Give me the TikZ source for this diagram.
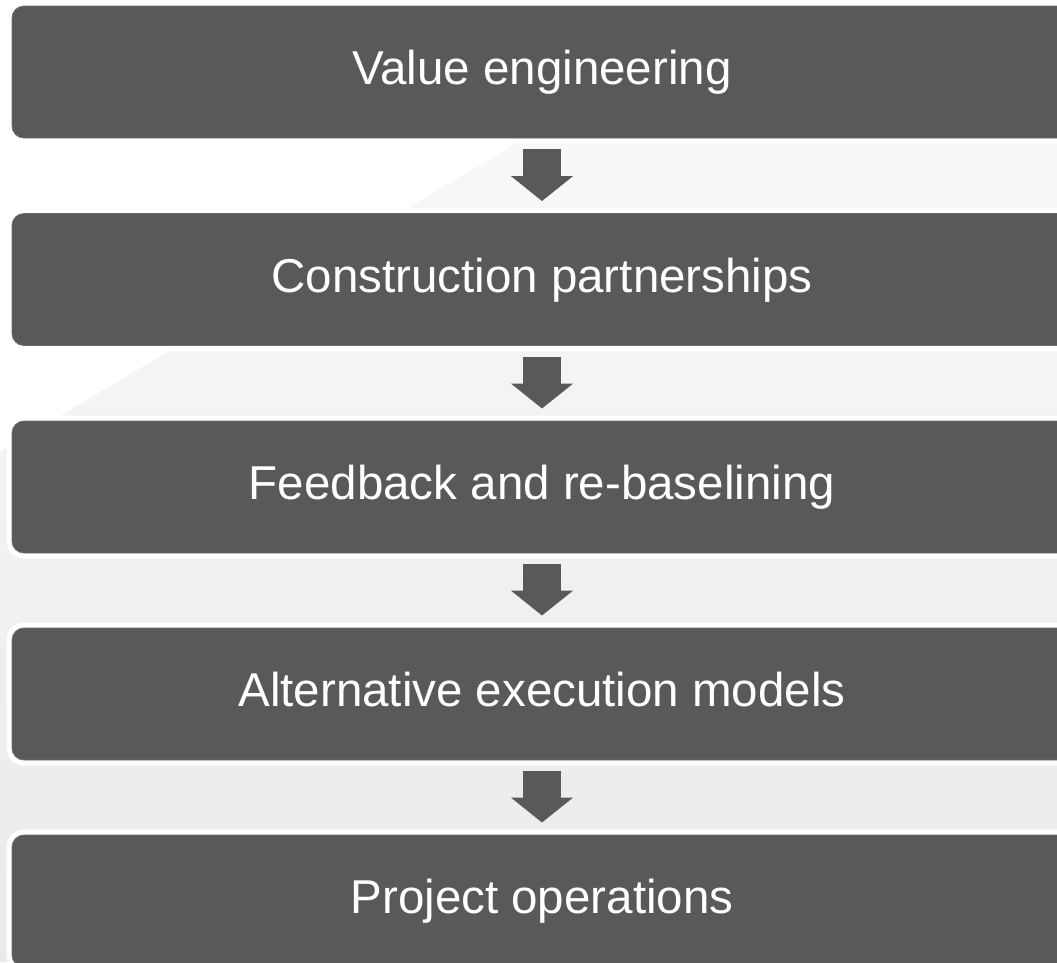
\documentclass[tikz,border=0pt]{standalone}
\usepackage{fontspec}
\setmainfont{Liberation Sans}
\usetikzlibrary{arrows.meta}
\definecolor{boxgray}{HTML}{595959}
\definecolor{edgegray}{HTML}{6E6E6E}
\definecolor{bgtop}{HTML}{F8F8F6}
\definecolor{bgbot}{HTML}{EAEAE8}
\tikzset{
  stepbox/.style={rectangle, rounded corners=12pt, fill=boxgray, draw=edgegray,
    line width=0.8pt, preaction={draw=white, line width=11pt},
    minimum width=1060pt, minimum height=132pt, inner sep=0pt, outer sep=0pt,
    text=white, font=\fontsize{47.5}{52}\selectfont,
    text height=34.5pt, text depth=9pt},
  flowarrow/.style={draw=boxgray, line width=38pt,
    -{Triangle[width=61pt,length=25pt]},
    shorten <=11pt, shorten >=12.5pt}
}
\begin{document}
\begin{tikzpicture}[x=1pt,y=-1pt]
\useasboundingbox (0,0) rectangle (1057,962);
\clip (0,0) rectangle (1057,962);
\fill[white] (0,0) rectangle (1057,962);
\shade[top color=bgtop, bottom color=bgbot]
  (517,143) -- (1057,143) -- (1057,962) -- (0,962) -- (0,452) -- cycle;
\node[stepbox] (b1) at (542,72) {Value engineering};
\node[stepbox] (b2) at (542,279.5) {Construction partnerships};
\node[stepbox] (b3) at (542,487) {Feedback and re-baselining};
\node[stepbox] (b4) at (542,694) {Alternative execution models};
\node[stepbox] (b5) at (542,901) {Project operations};
\draw[flowarrow] (b1) -- (b2);
\draw[flowarrow] (b2) -- (b3);
\draw[flowarrow] (b3) -- (b4);
\draw[flowarrow] (b4) -- (b5);
\end{tikzpicture}
\end{document}
